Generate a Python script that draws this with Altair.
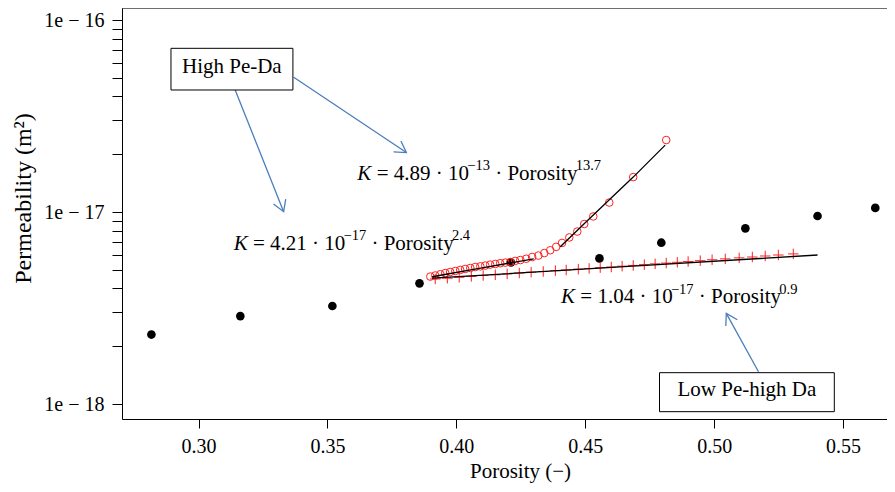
import altair as alt
import pandas as pd

# ---------------- data ----------------
dots_phi = [0.2817, 0.3162, 0.3519, 0.3857, 0.4212, 0.4555, 0.4795, 0.5121, 0.5401, 0.5625]
dots_k = [2.30e-18, 2.87e-18, 3.24e-18, 4.25e-18, 5.46e-18, 5.73e-18, 6.92e-18, 8.22e-18, 9.53e-18, 1.05e-17]

circ_phi = [0.3899, 0.3918, 0.3938, 0.3957, 0.3976, 0.3996, 0.4015, 0.4034, 0.4054, 0.4073,
            0.4093, 0.4112, 0.4131, 0.4151, 0.4170, 0.4190, 0.4209, 0.4228, 0.4248, 0.4271,
            0.4294, 0.4318, 0.4341, 0.4364, 0.4387, 0.4410, 0.4438, 0.4469, 0.4496, 0.4531,
            0.4593, 0.4686, 0.4814]
circ_k = [4.61e-18, 4.67e-18, 4.74e-18, 4.81e-18, 4.87e-18, 4.93e-18, 4.99e-18, 5.05e-18, 5.11e-18, 5.17e-18,
          5.21e-18, 5.26e-18, 5.32e-18, 5.36e-18, 5.41e-18, 5.45e-18, 5.49e-18, 5.56e-18, 5.62e-18, 5.71e-18,
          5.83e-18, 5.93e-18, 6.11e-18, 6.32e-18, 6.58e-18, 6.90e-18, 7.37e-18, 7.91e-18, 8.66e-18, 9.48e-18,
          1.12e-17, 1.52e-17, 2.37e-17]

cross_phi = [0.3918, 0.3965, 0.4011, 0.4058, 0.4104, 0.4151, 0.4197, 0.4244, 0.4290, 0.4337,
             0.4384, 0.4426, 0.4473, 0.4515, 0.4558, 0.4601, 0.4643, 0.4686, 0.4729, 0.4771,
             0.4814, 0.4857, 0.4899, 0.4946, 0.4992, 0.5043, 0.5097, 0.5148, 0.5198, 0.5249, 0.5307]
cross_k = [4.48e-18, 4.52e-18, 4.57e-18, 4.62e-18, 4.67e-18, 4.71e-18, 4.76e-18, 4.81e-18, 4.86e-18, 4.90e-18,
           4.95e-18, 4.99e-18, 5.04e-18, 5.08e-18, 5.13e-18, 5.17e-18, 5.22e-18, 5.27e-18, 5.32e-18, 5.37e-18,
           5.42e-18, 5.47e-18, 5.52e-18, 5.58e-18, 5.64e-18, 5.70e-18, 5.77e-18, 5.83e-18, 5.90e-18, 5.97e-18, 6.05e-18]

# fitted curves
fit1_phi = [0.3906, 0.4100, 0.4300]          # K = 4.21e-17 * phi^2.4
fit1_k = [4.60e-18, 5.12e-18, 5.70e-18]
fit2_phi = [0.4403, 0.4519, 0.4686, 0.4810]  # K = 4.89e-13 * phi^13.7
fit2_k = [6.59e-18, 9.31e-18, 1.52e-17, 2.23e-17]
fit3_phi = [0.3906, 0.4651, 0.5401]          # K = 1.04e-17 * phi^0.9
fit3_k = [4.52e-18, 5.19e-18, 5.97e-18]

# annotations
eq_anchor_phi = [0.3616, 0.3136, 0.4406]
eq_anchor_k = [1.468e-17, 6.34e-18, 3.345e-18]
eq_coef = ["4.89", "4.21", "1.04"]
eq_exp10 = ["\u221213", "\u221217", "\u221217"]
eq_power = ["13.7", "2.4", "0.9"]

box_labels = ["High Pe-Da", "Low Pe-high Da"]
box_phi = [0.2893, 0.4788]
box_phi2 = [0.3366, 0.5466]
box_k = [7.12e-17, 1.456e-18]
box_k2 = [4.32e-17, 9.12e-19]
box_text_phi = [0.3129, 0.5127]
box_text_k = [5.30e-17, 1.10e-18]

arrow_phi = [0.3369, 0.3142, 0.5172]
arrow_k = [5.03e-17, 4.32e-17, 1.473e-18]
arrow_phi2 = [0.3806, 0.3330, 0.5047]
arrow_k2 = [2.04e-17, 1.004e-17, 2.967e-18]
arrow_angle = [33.8, 68.4, 241.1]

x_ticks = [0.30, 0.35, 0.40, 0.45, 0.50, 0.55]
y_ticks = [m * 10.0 ** e for e in (-18, -17) for m in range(1, 10)] + [1e-16]

# ---------------- styling ----------------
W, H = 765, 411
FONT = "Liberation Serif"
RED = "#ff2020"
BLUE = "#4a7ebb"
X_DOM = [0.2703, 0.2703 + W / 2578.0]
Y_DOM = [10 ** -18.078125, 10 ** -15.9375]

xs = alt.Scale(domain=X_DOM, nice=False, zero=False)
ys = alt.Scale(type="log", domain=Y_DOM, nice=False)

x_axis = alt.Axis(values=x_ticks, format=".2f", title="Porosity (\u2212)", grid=False,
                  domainColor="black", tickColor="black", tickSize=9, labelFlush=False,
                  labelFont=FONT, labelFontSize=20, labelColor="black", labelPadding=8,
                  titleFont=FONT, titleFontSize=21, titleFontWeight="normal", titleColor="black",
                  titleX=398, titleY=58, titleBaseline="alphabetic")
y_axis = alt.Axis(values=y_ticks, grid=False, title="Permeability (m\u00b2)",
                  labelExpr="datum.value == 1e-16 ? '1e \u2212 16' : datum.value == 1e-17 ? '1e \u2212 17' : datum.value == 1e-18 ? '1e \u2212 18' : ''",
                  domainColor="black", tickColor="black", tickSize=10,
                  labelFont=FONT, labelFontSize=20, labelColor="black", labelPadding=8,
                  titleFont=FONT, titleFontSize=24, titleFontWeight="normal", titleColor="black",
                  titleX=-92, titleY=190, titleBaseline="alphabetic")


def enc(xf="phi", yf="k"):
    return dict(x=alt.X(f"{xf}:Q", scale=xs, axis=x_axis),
                y=alt.Y(f"{yf}:Q", scale=ys, axis=y_axis))


layers = []

dots_df = pd.DataFrame({"phi": dots_phi, "k": dots_k})
layers.append(alt.Chart(dots_df).mark_point(shape="circle", filled=True, color="black",
                                             size=75, opacity=1).encode(**enc()))

cross_df = pd.DataFrame({"phi": cross_phi, "k": cross_k})
layers.append(alt.Chart(cross_df).mark_point(shape="M-1,0L1,0M0,-1L0,1", filled=False,
                                              color=RED, size=110, strokeWidth=1,
                                              opacity=1).encode(**enc()))

circ_df = pd.DataFrame({"phi": circ_phi, "k": circ_k})
layers.append(alt.Chart(circ_df).mark_point(shape="circle", filled=False, color=RED,
                                             size=58, strokeWidth=1, opacity=1).encode(**enc()))

for fp, fk in ((fit1_phi, fit1_k), (fit2_phi, fit2_k), (fit3_phi, fit3_k)):
    df = pd.DataFrame({"phi": fp, "k": fk})
    layers.append(alt.Chart(df).mark_line(color="black", strokeWidth=1.3).encode(**enc()))

# arrows
arr_df = pd.DataFrame({"phi": arrow_phi, "k": arrow_k, "phi2": arrow_phi2, "k2": arrow_k2,
                       "ang": arrow_angle})
layers.append(alt.Chart(arr_df).mark_rule(color=BLUE, strokeWidth=1.3).encode(
    x=alt.X("phi:Q", scale=xs, axis=x_axis), y=alt.Y("k:Q", scale=ys, axis=y_axis),
    x2="phi2:Q", y2="k2:Q"))
layers.append(alt.Chart(arr_df).mark_point(shape="M-1,-0.6L0,0L-1,0.6", filled=False,
                                            color=BLUE, size=480, strokeWidth=1.3,
                                            opacity=1).encode(
    x=alt.X("phi2:Q", scale=xs, axis=x_axis), y=alt.Y("k2:Q", scale=ys, axis=y_axis),
    angle=alt.Angle("ang:Q", scale=None)))

# boxes
box_df = pd.DataFrame({"phi": box_phi, "phi2": box_phi2, "k": box_k, "k2": box_k2})
layers.append(alt.Chart(box_df).mark_rect(fill="white", stroke="black", strokeWidth=1).encode(
    x=alt.X("phi:Q", scale=xs, axis=x_axis), y=alt.Y("k:Q", scale=ys, axis=y_axis),
    x2="phi2:Q", y2="k2:Q"))
bt_df = pd.DataFrame({"phi": box_text_phi, "k": box_text_k, "t": box_labels})
layers.append(alt.Chart(bt_df).mark_text(font=FONT, fontSize=21, color="black",
                                          align="center", baseline="alphabetic").encode(
    text="t:N", **enc()))

# equations with superscripts
TW = {' ': 250, '=': 564, '.': 250, '\u00b7': 250, '\u2212': 564, '(': 333, ')': 333,
      'P': 556, 'o': 500, 'r': 333, 's': 389, 'i': 278, 't': 278, 'y': 500}


def tw(s, size):
    return sum(TW.get(c, 500) for c in s) / 1000.0 * size


MAIN, SUP, RAISE = 21, 14.5, -9.5
for i in range(3):
    pieces = [("K", MAIN, "italic", 0, 0.667 * MAIN),
              (" = " + eq_coef[i] + " \u00b7 10", MAIN, "normal", 0, None),
              (eq_exp10[i], SUP, "normal", RAISE, None),
              (" \u00b7 Porosity", MAIN, "normal", 0, None),
              (eq_power[i], SUP, "normal", RAISE, None)]
    dfp = pd.DataFrame({"phi": [eq_anchor_phi[i]], "k": [eq_anchor_k[i]]})
    off = 0.0
    for text, size, style, dy, width in pieces:
        stripped = text.lstrip(" ")
        off += tw(text[:len(text) - len(stripped)], size)
        layers.append(alt.Chart(dfp).mark_text(text=stripped, font=FONT, fontSize=size,
                                                fontStyle=style, color="black", align="left",
                                                baseline="alphabetic", dx=off, dy=dy).encode(**enc()))
        off += width if width is not None else tw(stripped, size)

# top frame line
top_df = pd.DataFrame({"phi": [X_DOM[0]]})
layers.append(alt.Chart(top_df).mark_rule(color="black", strokeWidth=1).encode(
    x=alt.value(0), x2=alt.value(W), y=alt.value(0)))

chart = alt.layer(*layers).properties(
    width=W, height=H,
    autosize=alt.AutoSizeParams(type="none"),
    padding={"left": 114, "top": 0, "right": 0, "bottom": 65},
).configure_view(stroke=None).configure(background="white")

chart.save("out.html", embed_options={"renderer": "svg", "actions": False})
